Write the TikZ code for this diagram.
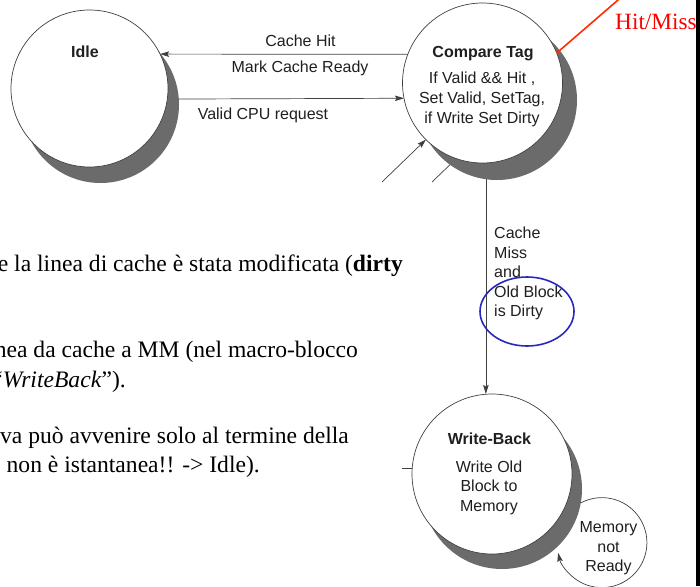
\documentclass[tikz,border=0pt]{standalone}
\usepackage{fontspec}
\setmainfont{Liberation Serif}
\setsansfont{Liberation Sans}
\usetikzlibrary{arrows.meta}

\definecolor{ink}{gray}{0.12}
\definecolor{shade}{RGB}{107,107,107}
\definecolor{edge}{gray}{0.25}
\definecolor{hitred}{RGB}{255,45,0}
\definecolor{markblue}{RGB}{40,40,190}

\tikzset{
  state/.style={circle, draw=edge, line width=0.7pt, fill=white,
    inner sep=0pt, outer sep=0pt, minimum size=#1},
  shadowdisk/.style={circle, fill=shade, inner sep=0pt, outer sep=0pt,
    minimum size=#1},
  lbl/.style={font=\sffamily\fontsize{16}{19.5}\selectfont, text=ink,
    inner sep=0pt, anchor=base},
  ttl/.style={lbl, font=\sffamily\bfseries\fontsize{16}{19.5}\selectfont},
  prose/.style={font=\fontsize{23.6}{28}\selectfont, inner sep=0pt,
    anchor=base east},
  wire/.style={draw=edge, line width=0.7pt},
  flow/.style={wire, -{Stealth[length=9pt,width=5.5pt,inset=1.5pt]}},
}

\begin{document}
\begin{tikzpicture}[x=1pt,y=1pt]
  \useasboundingbox (0,0) rectangle (700,-586);
  \clip (0,0) rectangle (700,-586);

  % states with their drop shadows
  \node[shadowdisk=157pt] (idlesh) at (100.5,-104.5) {};
  \node[state=157pt]      (idle)   at (89.5,-88.5) {};
  \node[shadowdisk=160pt] (cmpsh)  at (497,-100) {};
  \node[state=160pt]      (cmp)    at (482.5,-83) {};
  \node[shadowdisk=160pt] (wbsh)   at (502,-489) {};
  \node[state=160pt]      (wb)     at (492,-474) {};

  % state texts
  \node[ttl] (idlet) at (85,-57.3) {Idle};
  \node[ttl] (cmpt) at (483,-57.3) {Compare Tag};
  \node[lbl] (cmpa) at (482,-83.7) {If Valid \&\& Hit ,};
  \node[lbl] (cmpb) at (482,-103.7) {Set Valid, SetTag,};
  \node[lbl] (cmpc) at (482,-123.3) {if Write Set Dirty};
  \node[ttl] (wbt) at (489.5,-444) {Write-Back};
  \node[lbl] (wba) at (489,-472) {Write Old};
  \node[lbl] (wbb) at (489,-491.5) {Block to};
  \node[lbl] (wbc) at (489,-511) {Memory};

  % transitions between Idle and Compare Tag
  \draw[flow] (cmp.159) -- (idle.26);
  \node[lbl] (hit) at (300.5,-46) {Cache Hit};
  \node[lbl] (ready) at (300,-72.3) {Mark Cache Ready};
  \draw[flow] (idlesh.4) -- (cmp.191.5);
  \node[lbl] (cpu) at (263,-119) {Valid CPU request};

  % incoming edges from below
  \coordinate (inA) at (382,-182);
  \coordinate (inB) at (432,-182);
  \draw[flow] (inA) -- (cmp.225);
  \draw[wire] (inB) -- (cmpsh.234);

  % Compare Tag -> Write-Back
  \draw[flow] (cmpsh.262) -- (cmpsh.262 |- wb.north);
  \node[lbl, anchor=base west] (m1) at (494,-238) {Cache};
  \node[lbl, anchor=base west] (m2) at (494,-258) {Miss};
  \node[lbl, anchor=base west] (m3) at (494,-277.5) {and};
  \node[lbl, anchor=base west] (m4) at (494,-297) {Old Block};
  \node[lbl, anchor=base west] (m5) at (494,-316.5) {is Dirty};
  \draw[markblue, line width=1.6pt] (527,-311.5) ellipse [x radius=47, y radius=34.5];

  % stub on the left of Write-Back
  \coordinate (stub) at (402,-468.4);
  \draw[wire] (stub) -- (wb.176);

  % self loop on Write-Back
  \draw[flow] (wbsh.350.5) arc[start angle=118, end angle=-167, radius=45];
  \node[lbl] (n1) at (608.5,-532.5) {Memory};
  \node[lbl] (n2) at (608.5,-552) {not};
  \node[lbl] (n3) at (608.5,-571.5) {Ready};

  % red annotation
  \coordinate (hmtop) at (621.5,3);
  \draw[hitred, line width=1.6pt] (cmp.22) -- (hmtop);
  \node[anchor=base west, inner sep=0pt, text=red,
        font=\fontsize{23.3}{28}\selectfont] (hm) at (615,-30) {Hit/Miss};

  % slide text
  \node[prose] (p1) at (403,-271) {e la linea di cache è stata modificata (\textbf{dirty}};
  \node[prose] (p2) at (358,-357) {nea da cache a MM (nel macro-blocco};
  \node[prose] (p3) at (126,-387) {“\textit{WriteBack}”).};
  \node[prose, anchor=base west] (p4) at (0,-443) {va può avvenire solo al termine della};
  \node[prose] (p5) at (260,-472) {non è istantanea!! -> Idle).};

  % dark border strip on the right
  \fill[black] (696,0) rectangle (700,-586);
\end{tikzpicture}
\end{document}
